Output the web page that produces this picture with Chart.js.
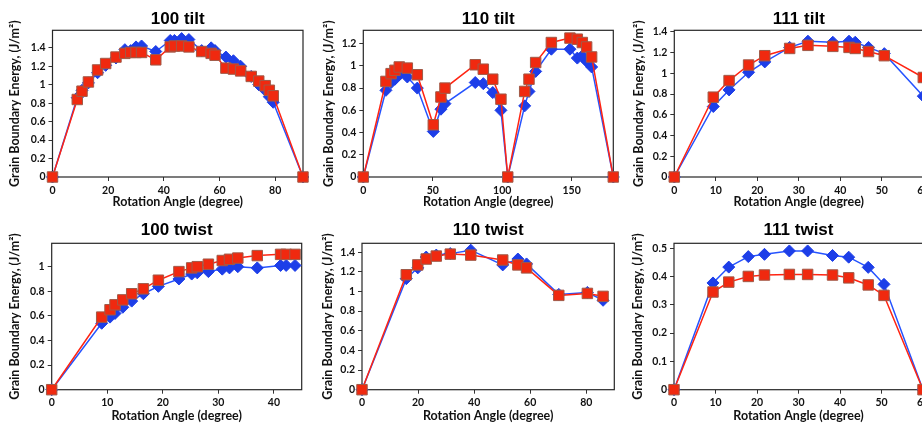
<!DOCTYPE html>
<html>
<head>
<meta charset="utf-8">
<script src="https://cdn.jsdelivr.net/npm/chart.js@4.4.0/dist/chart.umd.min.js"></script>
<style>
html, body { margin: 0; padding: 0; background: #fff; overflow: hidden; width: 922px; height: 428px; }
canvas { position: absolute; }
</style>
</head>
<body>
<canvas id="tilt100" width="330" height="214" style="left:0px;top:0px"></canvas>
<canvas id="tilt110" width="330" height="214" style="left:310px;top:0px"></canvas>
<canvas id="tilt111" width="330" height="214" style="left:620px;top:0px"></canvas>
<canvas id="twist100" width="330" height="214" style="left:0px;top:214px"></canvas>
<canvas id="twist110" width="330" height="214" style="left:310px;top:214px"></canvas>
<canvas id="twist111" width="330" height="214" style="left:620px;top:214px"></canvas>
<script>
// 100 tilt
const tilt100Angle = [0, 8.9, 10.6, 12.9, 16.2, 19.1, 22.8, 26.0, 28.1, 30.0, 32.0, 37.1, 42.3, 43.8, 46.4, 49.0, 53.6, 57.0, 58.4, 62.3, 65.0, 67.6, 71.4, 74.1, 76.4, 77.9, 79.3, 90];
const tilt100Blue = [0, 0.86, 0.94, 1.02, 1.13, 1.21, 1.29, 1.38, 1.37, 1.41, 1.42, 1.36, 1.48, 1.48, 1.50, 1.49, 1.37, 1.40, 1.37, 1.30, 1.26, 1.20, 1.09, 1.00, 0.94, 0.87, 0.81, 0];
const tilt100Red = [0, 0.84, 0.93, 1.03, 1.16, 1.23, 1.30, 1.34, 1.35, 1.35, 1.35, 1.27, 1.41, 1.42, 1.42, 1.41, 1.36, 1.34, 1.32, 1.18, 1.17, 1.15, 1.09, 1.04, 0.99, 0.94, 0.88, 0];
const tilt100XTicks = [0, 20, 40, 60, 80];
const tilt100YTicks = [0, 0.2, 0.4, 0.6, 0.8, 1, 1.2, 1.4];

// 110 tilt
const tilt110Angle = [0, 16.3, 20.0, 22.8, 25.9, 31.7, 38.9, 50.4, 55.9, 58.8, 80.6, 86.4, 93.2, 99.1, 104, 116.2, 119.3, 124.1, 135.4, 148.8, 154.1, 157.7, 160.8, 164.4, 180];
const tilt110Blue = [0, 0.78, 0.85, 0.88, 0.92, 0.90, 0.80, 0.41, 0.61, 0.66, 0.85, 0.84, 0.76, 0.60, 0, 0.64, 0.77, 0.95, 1.15, 1.15, 1.07, 1.09, 1.04, 0.99, 0];
const tilt110Red = [0, 0.86, 0.93, 0.96, 0.99, 0.98, 0.92, 0.47, 0.72, 0.80, 1.01, 0.97, 0.88, 0.70, 0, 0.77, 0.88, 1.03, 1.21, 1.25, 1.24, 1.21, 1.17, 1.08, 0];
const tilt110XTicks = [0, 50, 100, 150];
const tilt110YTicks = [0, 0.2, 0.4, 0.6, 0.8, 1, 1.2];

// 111 tilt
const tilt111Angle = [0, 9.4, 13.2, 17.9, 21.8, 27.8, 32.2, 38.2, 42.1, 43.6, 46.8, 50.6, 60];
const tilt111Blue = [0, 0.68, 0.84, 1.01, 1.11, 1.25, 1.31, 1.30, 1.31, 1.30, 1.25, 1.19, 0.78];
const tilt111Red = [0, 0.77, 0.93, 1.08, 1.17, 1.24, 1.27, 1.26, 1.25, 1.24, 1.21, 1.17, 0.96];
const tilt111XTicks = [0, 10, 20, 30, 40, 50, 60];
const tilt111YTicks = [0, 0.2, 0.4, 0.6, 0.8, 1, 1.2, 1.4];

// 100 twist
const twist100Angle = [0, 9.0, 10.5, 11.4, 12.8, 14.4, 16.5, 19.2, 22.9, 25.2, 26.2, 28.2, 30.7, 32.0, 33.5, 37.0, 41.2, 42.2, 43.8];
const twist100Blue = [0, 0.54, 0.59, 0.62, 0.67, 0.72, 0.78, 0.84, 0.90, 0.94, 0.95, 0.96, 0.98, 0.99, 1.00, 0.99, 1.01, 1.01, 1.01];
const twist100Red = [0, 0.59, 0.65, 0.69, 0.73, 0.78, 0.82, 0.89, 0.96, 0.99, 1.00, 1.02, 1.05, 1.06, 1.07, 1.09, 1.10, 1.10, 1.10];
const twist100XTicks = [0, 10, 20, 30, 40];
const twist100YTicks = [0, 0.2, 0.4, 0.6, 0.8, 1];

// 110 twist
const twist110Angle = [0, 15.8, 19.9, 22.9, 26.5, 31.5, 38.8, 50.2, 55.6, 58.7, 70.2, 80.4, 86.0];
const twist110Blue = [0, 1.13, 1.24, 1.35, 1.37, 1.385, 1.42, 1.27, 1.33, 1.28, 0.97, 0.99, 0.91];
const twist110Red = [0, 1.17, 1.27, 1.33, 1.36, 1.38, 1.37, 1.32, 1.27, 1.24, 0.96, 0.98, 0.95];
const twist110XTicks = [0, 20, 40, 60, 80];
const twist110YTicks = [0, 0.2, 0.4, 0.6, 0.8, 1, 1.2, 1.4];

// 111 twist
const twist111Angle = [0, 9.4, 13.2, 17.9, 21.8, 27.8, 32.2, 38.2, 42.1, 46.8, 50.6, 60];
const twist111Blue = [0, 0.377, 0.433, 0.47, 0.478, 0.49, 0.49, 0.474, 0.468, 0.432, 0.372, 0];
const twist111Red = [0, 0.345, 0.38, 0.40, 0.405, 0.407, 0.407, 0.405, 0.395, 0.37, 0.333, 0];
const twist111XTicks = [0, 10, 20, 30, 40, 50, 60];
const twist111YTicks = [0, 0.1, 0.2, 0.3, 0.4, 0.5];

const tickFont = { family: "Lato", weight: "bold", size: 10.5 };
const axisFont = { family: "Lato", weight: "bold", size: 12.5 };

// box round the plot area, drawn under the markers
const framePlugin = {
    id: "frame",
    beforeDatasetsDraw(chart) {
        const { ctx, chartArea: a } = chart;
        ctx.save();
        ctx.strokeStyle = "#262626";
        ctx.lineWidth = 1.2;
        ctx.strokeRect(a.left, a.top, a.right - a.left, a.bottom - a.top);
        ctx.restore();
    }
};

const toPoints = (xs, ys) => xs.map((x, i) => ({ x: x, y: ys[i] }));

function drawPanel(id, title, angles, blue, red, xTicks, yTicks, xMax, yMax, box) {
    const ctx = document.getElementById(id).getContext("2d");
    return new Chart(ctx, {
        type: "scatter",
        data: {
            datasets: [
                {
                    label: "red",
                    data: toPoints(angles, red),
                    showLine: true,
                    borderColor: "#ff2412",
                    borderWidth: 1.5,
                    pointStyle: "rect",
                    pointRadius: 7.4,
                    pointHoverRadius: 7.4,
                    pointBackgroundColor: "#f0290f",
                    pointBorderColor: "#a05a48",
                    pointBorderWidth: 1,
                    clip: false
                },
                {
                    label: "blue",
                    data: toPoints(angles, blue),
                    showLine: true,
                    borderColor: "#2553ff",
                    borderWidth: 1.5,
                    pointStyle: "rectRot",
                    pointRadius: 6,
                    pointHoverRadius: 6,
                    pointBackgroundColor: "#1d3ee8",
                    pointBorderColor: "#1d3ee8",
                    pointBorderWidth: 1,
                    clip: false
                }
            ]
        },
        options: {
            responsive: false,
            animation: false,
            events: [],
            layout: { padding: { left: 0, top: 0, bottom: 0, right: box.padRight } },
            plugins: {
                legend: { display: false },
                tooltip: { enabled: false },
                title: {
                    display: true,
                    text: title,
                    fullSize: false,
                    color: "#000",
                    font: { family: "Liberation Sans", weight: "bold", size: 17, lineHeight: 1.2 },
                    padding: { top: box.titleTop, bottom: box.titleBottom }
                }
            },
            scales: {
                x: {
                    type: "linear",
                    min: 0,
                    max: xMax,
                    afterBuildTicks: s => { s.ticks = xTicks.map(v => ({ value: v })); },
                    afterFit: s => { s.height = box.xHeight; },
                    ticks: { autoSkip: false, maxRotation: 0, callback: v => String(v), font: tickFont, color: "#111", padding: 3 },
                    grid: { drawOnChartArea: false, tickLength: 4, color: "#333" },
                    border: { display: false },
                    title: { display: true, text: "Rotation Angle (degree)", font: axisFont, color: "#111", padding: { top: 0, bottom: 5 } }
                },
                y: {
                    type: "linear",
                    min: 0,
                    max: yMax,
                    afterBuildTicks: s => { s.ticks = yTicks.map(v => ({ value: v })); },
                    afterFit: s => { s.width = box.yWidth; },
                    ticks: { autoSkip: false, callback: v => String(v), font: tickFont, color: "#111", padding: 3 },
                    grid: { drawOnChartArea: false, tickLength: 4, color: "#333" },
                    border: { display: false },
                    title: { display: true, text: "Grain Boundary Energy, (J/m\u00b2)", font: axisFont, color: "#111", padding: { top: box.yTitlePad, bottom: 0 } }
                }
            }
        },
        plugins: [framePlugin]
    });
}

drawPanel("tilt100", "100 tilt", tilt100Angle, tilt100Blue, tilt100Red, tilt100XTicks, tilt100YTicks, 90, 1.59,
    { padRight: 27, yWidth: 52.5, xHeight: 37, titleTop: 8.8, titleBottom: 1.1, yTitlePad: 7.5 });
drawPanel("tilt110", "110 tilt", tilt110Angle, tilt110Blue, tilt110Red, tilt110XTicks, tilt110YTicks, 180, 1.32,
    { padRight: 26.7, yWidth: 53.3, xHeight: 37, titleTop: 8.8, titleBottom: 1.1, yTitlePad: 11.2 });
drawPanel("tilt111", "111 tilt", tilt111Angle, tilt111Blue, tilt111Red, tilt111XTicks, tilt111YTicks, 60, 1.415,
    { padRight: 26.7, yWidth: 54.3, xHeight: 37, titleTop: 8.8, titleBottom: 1.1, yTitlePad: 11.2 });
drawPanel("twist100", "100 twist", twist100Angle, twist100Blue, twist100Red, twist100XTicks, twist100YTicks, 45, 1.19,
    { padRight: 28.3, yWidth: 51.7, xHeight: 38.3, titleTop: 6.5, titleBottom: 2.4, yTitlePad: 7.5 });
drawPanel("twist110", "110 twist", twist110Angle, twist110Blue, twist110Red, twist110XTicks, twist110YTicks, 90, 1.49,
    { padRight: 25.7, yWidth: 52, xHeight: 38.3, titleTop: 6.5, titleBottom: 2.4, yTitlePad: 10.5 });
drawPanel("twist111", "111 twist", twist111Angle, twist111Blue, twist111Red, twist111XTicks, twist111YTicks, 60, 0.517,
    { padRight: 27, yWidth: 54, xHeight: 38.3, titleTop: 6.5, titleBottom: 2.4, yTitlePad: 10.5 });
</script>
</body>
</html>
